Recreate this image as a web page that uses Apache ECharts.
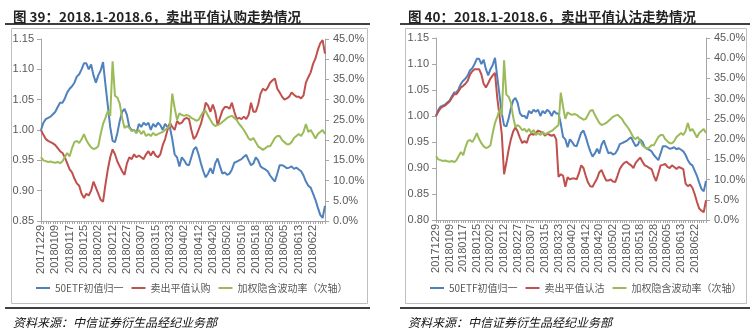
<!DOCTYPE html>
<html>
<head>
<meta charset="utf-8">
<script src="https://cdn.jsdelivr.net/npm/echarts@6/dist/echarts.min.js"></script>
<style>
html,body{margin:0;padding:0;background:#fff;}
#c{width:756px;height:328px;}
</style>
</head>
<body>
<div id="c"></div>
<script>
// ---------- DATA ----------
const categories = [
'20171229',
'20180102','20180103','20180104','20180105','20180108','20180109','20180110','20180111','20180112','20180115','20180116','20180117','20180118','20180119','20180122','20180123','20180124','20180125','20180126','20180129','20180130','20180131',
'20180201','20180202','20180205','20180206','20180207','20180208','20180209','20180212','20180213','20180214','20180222','20180223','20180226','20180227','20180228',
'20180301','20180302','20180305','20180306','20180307','20180308','20180309','20180312','20180313','20180314','20180315','20180316','20180319','20180320','20180321','20180322','20180323','20180326','20180327','20180328','20180329','20180330',
'20180402','20180403','20180404','20180409','20180410','20180411','20180412','20180413','20180416','20180417','20180418','20180419','20180420','20180423','20180424','20180425','20180426','20180427',
'20180502','20180503','20180504','20180507','20180508','20180509','20180510','20180511','20180514','20180515','20180516','20180517','20180518','20180521','20180522','20180523','20180524','20180525','20180528','20180529','20180530','20180531',
'20180601','20180604','20180605','20180606','20180607','20180608','20180611','20180612','20180613','20180614','20180615','20180619','20180620','20180621','20180622','20180625','20180626','20180627','20180628','20180629'
];

// 50ETF normalised (same in both panels)
const etfNorm = [
1.000,1.012,1.018,1.020,1.022,1.026,1.030,1.038,1.045,1.045,
1.052,1.062,1.068,1.072,1.078,1.088,1.092,1.100,1.110,1.110,
1.100,1.108,1.090,1.078,1.090,1.098,1.112,1.075,1.040,1.005,
0.982,0.980,0.995,1.015,1.030,1.035,1.025,1.005,1.000,1.000,
0.995,1.010,1.005,1.012,1.008,1.012,1.000,1.010,1.005,1.012,
1.008,1.000,1.010,1.005,1.005,0.985,0.960,0.955,0.940,0.955,
0.950,0.943,0.942,0.955,0.968,0.972,0.960,0.945,0.932,0.922,
0.928,0.937,0.928,0.945,0.953,0.940,0.928,0.930,0.926,0.928,
0.935,0.946,0.948,0.950,0.952,0.956,0.959,0.950,0.942,0.945,
0.955,0.950,0.940,0.937,0.935,0.932,0.925,0.920,0.915,0.928,
0.942,0.942,0.940,0.937,0.938,0.940,0.936,0.938,0.935,0.932,
0.925,0.915,0.908,0.905,0.895,0.885,0.872,0.860,0.855,0.875
];

// Weighted implied volatility, % (same in both panels, secondary axis)
const impliedVol = [
15.8,15.0,14.8,14.6,14.7,14.5,14.4,14.6,14.3,14.8,
15.8,16.8,16.0,18.0,19.5,19.8,19.3,20.2,21.5,20.0,
19.0,18.2,17.8,18.0,18.5,21.5,24.0,25.5,27.2,26.0,
39.5,31.0,30.5,29.0,25.5,23.0,23.5,23.0,22.2,22.5,
21.8,22.5,21.5,22.3,21.0,21.5,21.0,21.8,21.2,21.5,
21.8,22.0,22.5,23.0,23.5,31.5,28.0,25.0,26.6,26.2,
26.0,26.2,26.0,25.5,25.2,24.8,25.0,26.0,27.0,27.2,
26.0,25.0,24.0,23.5,23.7,24.0,24.5,25.0,25.5,25.8,
26.0,25.5,25.0,24.0,23.3,22.5,21.5,20.4,20.0,20.5,
19.5,18.4,18.0,17.6,18.0,18.5,18.5,19.5,20.5,21.0,
21.0,20.0,19.5,19.0,19.0,19.5,20.5,21.0,21.5,21.0,
22.0,24.0,22.0,22.5,21.5,20.4,21.5,22.0,22.5,21.5
];

// Sell ATM call (left panel)
const sellCall = [
1.000,0.992,0.985,0.982,0.980,0.978,0.975,0.970,0.965,0.962,
0.955,0.945,0.935,0.930,0.920,0.912,0.908,0.895,0.888,0.895,
0.892,0.900,0.915,0.905,0.895,0.885,0.882,0.910,0.935,0.955,
0.968,0.960,0.948,0.940,0.932,0.926,0.945,0.955,0.952,0.960,
0.955,0.958,0.955,0.952,0.960,0.965,0.958,0.965,0.958,0.955,
0.960,0.975,0.985,1.000,1.012,1.005,1.000,1.015,1.010,1.012,
1.018,1.020,1.018,1.000,0.985,0.990,1.000,1.010,1.025,1.045,
1.040,1.030,1.042,1.030,1.008,1.020,1.032,1.038,1.038,1.035,
1.045,1.030,1.018,1.020,1.018,1.022,1.018,1.025,1.045,1.030,
1.030,1.042,1.060,1.068,1.065,1.070,1.078,1.082,1.085,1.068,
1.062,1.055,1.050,1.052,1.055,1.062,1.058,1.055,1.055,1.052,
1.057,1.078,1.087,1.095,1.109,1.118,1.132,1.143,1.148,1.126
];

// Sell ATM put (right panel)
const sellPut = [
1.000,1.008,1.015,1.018,1.020,1.024,1.028,1.035,1.042,1.042,
1.048,1.055,1.058,1.062,1.068,1.080,1.086,1.090,1.090,1.090,
1.080,1.062,1.055,1.063,1.072,1.078,1.083,1.035,1.000,0.965,
0.888,0.910,0.935,0.955,0.970,0.978,0.970,0.958,0.948,0.952,
0.948,0.962,0.966,0.964,0.968,0.972,0.970,0.968,0.962,0.966,
0.964,0.962,0.964,0.955,0.883,0.888,0.885,0.864,0.882,0.878,
0.880,0.880,0.878,0.890,0.905,0.900,0.885,0.872,0.865,0.864,
0.872,0.880,0.892,0.896,0.885,0.876,0.876,0.878,0.874,0.873,
0.885,0.898,0.905,0.910,0.912,0.908,0.905,0.900,0.910,0.915,
0.920,0.912,0.905,0.903,0.900,0.898,0.885,0.875,0.890,0.905,
0.906,0.908,0.902,0.900,0.905,0.902,0.898,0.902,0.900,0.898,
0.870,0.865,0.868,0.862,0.850,0.835,0.822,0.818,0.815,0.838
];

const nameEtf = '50ETF初值归一';
const nameCall = '卖出平值认购';
const namePut = '卖出平值认沽';
const nameVol = '加权隐含波动率（次轴）';

const titleLeft = '图 39：2018.1-2018.6，卖出平值认购走势情况';
const titleRight = '图 40：2018.1-2018.6，卖出平值认沽走势情况';
const sourceText = '资料来源：中信证券衍生品经纪业务部';

const leftAxis1 = {min: 0.85, max: 1.15, interval: 0.05};
const leftAxis2 = {min: 0.80, max: 1.15, interval: 0.05};
const rightAxis = {min: 0, max: 45, interval: 5};

// ---------- CHART ----------
const BLUE = '#4F81BD', RED = '#C0504D', GREEN = '#9BBB59';
const AXIS = '#a6a6a6', LABEL = '#595959';
const FONT = '"Liberation Sans", "Noto Sans CJK SC", sans-serif';
const CJK = '"Noto Sans CJK SC", sans-serif';

const chart = echarts.init(document.getElementById('c'), null, {renderer: 'canvas'});

function xAxis(gi) {
  return {
    type: 'category', gridIndex: gi, data: categories, boundaryGap: false,
    axisLine: {lineStyle: {color: AXIS, width: 1}},
    axisTick: {show: true, interval: 0, length: 3, lineStyle: {color: AXIS}},
    axisLabel: {interval: 5, rotate: 90, color: LABEL, fontSize: 11, fontFamily: FONT, margin: 4}
  };
}
function yLeft(gi, ax) {
  return {
    type: 'value', gridIndex: gi, min: ax.min, max: ax.max, interval: ax.interval, position: 'left',
    splitLine: {show: false},
    axisLine: {show: true, lineStyle: {color: AXIS}},
    axisTick: {show: true, length: 4, lineStyle: {color: AXIS}},
    axisLabel: {color: LABEL, fontSize: 11, fontFamily: FONT, margin: 7, formatter: v => v.toFixed(2)}
  };
}
function yRight(gi) {
  return {
    type: 'value', gridIndex: gi, min: rightAxis.min, max: rightAxis.max, interval: rightAxis.interval, position: 'right',
    splitLine: {show: false},
    axisLine: {show: true, lineStyle: {color: AXIS}},
    axisTick: {show: true, length: 4, lineStyle: {color: AXIS}},
    axisLabel: {color: LABEL, fontSize: 11, fontFamily: FONT, margin: 8, formatter: v => v.toFixed(1) + '%'}
  };
}
function line(name, data, color, xi, yi) {
  return {
    type: 'line', name, data, xAxisIndex: xi, yAxisIndex: yi,
    showSymbol: false, symbol: 'none', smooth: false, animation: false,
    lineStyle: {color, width: 2}, itemStyle: {color}
  };
}
const legendBase = {
  icon: 'rect', itemWidth: 14, itemHeight: 2, itemGap: 8, width: 340, padding: 0,
  textStyle: {color: LABEL, fontSize: 10, fontFamily: CJK}
};

chart.setOption({
  backgroundColor: '#fff',
  animation: false,
  title: [
    {text: titleLeft, left: 8, top: 5, textStyle: {fontSize: 13.5, fontWeight: 'bold', color: '#222', fontFamily: CJK}},
    {text: titleRight, left: 403, top: 5, textStyle: {fontSize: 13.5, fontWeight: 'bold', color: '#222', fontFamily: CJK}},
    {text: sourceText, left: 8, top: 311, textStyle: {fontSize: 12, fontStyle: 'italic', fontWeight: 'normal', color: '#111', fontFamily: CJK}},
    {text: sourceText, left: 403, top: 311, textStyle: {fontSize: 12, fontStyle: 'italic', fontWeight: 'normal', color: '#111', fontFamily: CJK}}
  ],
  legend: [
    Object.assign({}, legendBase, {left: 36, top: 283, data: [nameEtf, nameCall, nameVol]}),
    Object.assign({}, legendBase, {left: 430, top: 283, data: [nameEtf, namePut, nameVol]})
  ],
  grid: [
    {left: 41, top: 39, width: 284, height: 182, containLabel: false},
    {left: 436, top: 38, width: 270, height: 182, containLabel: false}
  ],
  xAxis: [xAxis(0), xAxis(1)],
  yAxis: [yLeft(0, leftAxis1), yRight(0), yLeft(1, leftAxis2), yRight(1)],
  series: [
    line(nameEtf, etfNorm, BLUE, 0, 0),
    line(nameCall, sellCall, RED, 0, 0),
    line(nameVol, impliedVol, GREEN, 0, 1),
    line(nameEtf, etfNorm, BLUE, 1, 2),
    line(namePut, sellPut, RED, 1, 2),
    line(nameVol, impliedVol, GREEN, 1, 3)
  ],
  graphic: [
    {type: 'line', shape: {x1: 5, y1: 24, x2: 370, y2: 24}, style: {stroke: '#000', lineWidth: 1.5}, silent: true},
    {type: 'rect', shape: {x: 11.5, y: 28.5, width: 356, height: 275}, style: {fill: 'none', stroke: '#bfbfbf', lineWidth: 1}, silent: true},
    {type: 'line', shape: {x1: 5, y1: 308, x2: 370, y2: 308}, style: {stroke: '#000', lineWidth: 1.5}, silent: true},
    {type: 'line', shape: {x1: 400, y1: 24, x2: 750, y2: 24}, style: {stroke: '#000', lineWidth: 1.5}, silent: true},
    {type: 'rect', shape: {x: 405.5, y: 28.5, width: 341, height: 275}, style: {fill: 'none', stroke: '#bfbfbf', lineWidth: 1}, silent: true},
    {type: 'line', shape: {x1: 400, y1: 308, x2: 750, y2: 308}, style: {stroke: '#000', lineWidth: 1.5}, silent: true}
  ]
});
</script>
</body>
</html>
